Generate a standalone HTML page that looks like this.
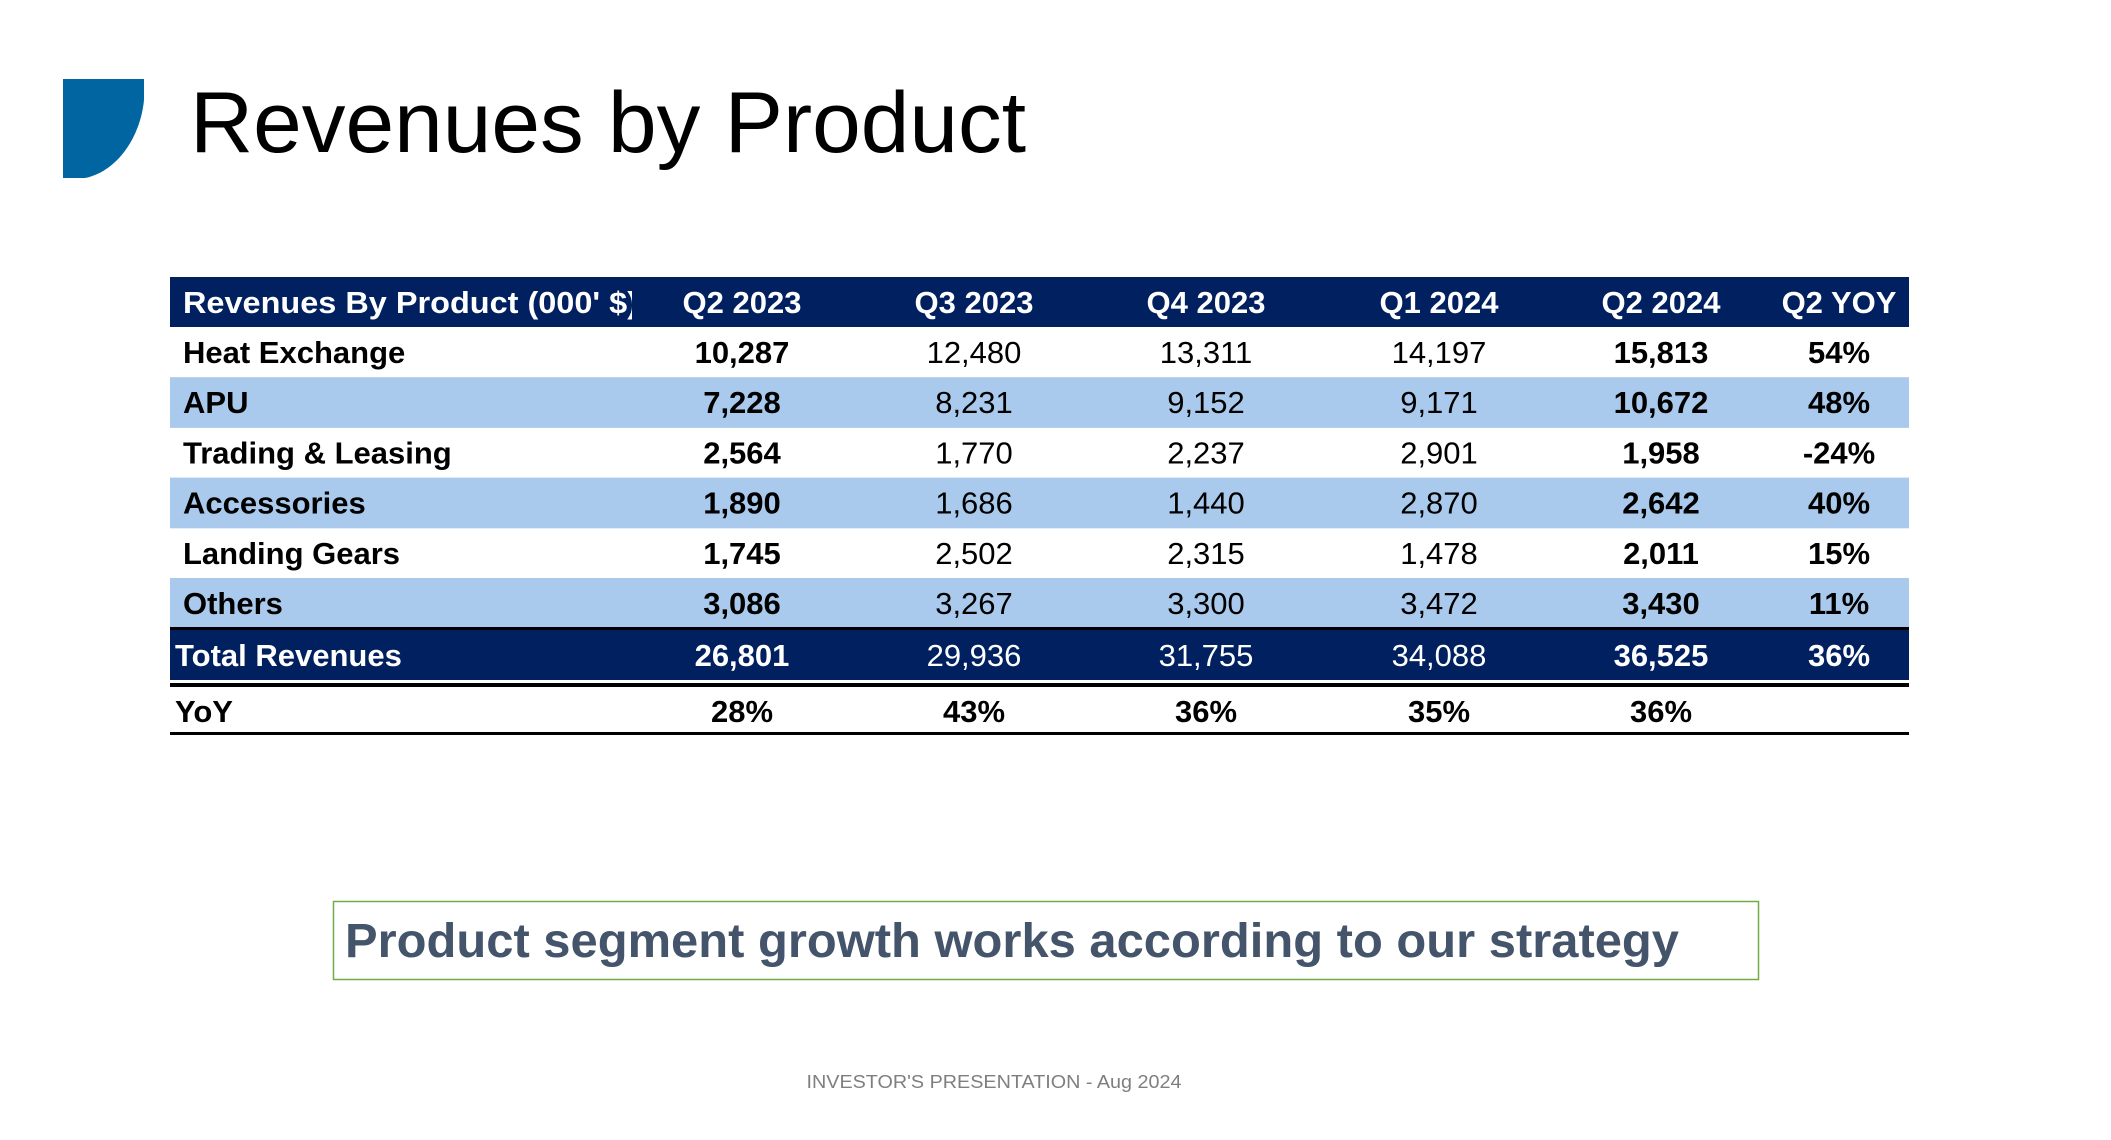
<!DOCTYPE html>
<html><head><meta charset="utf-8">
<style>
html,body{margin:0;padding:0;background:#fff;}
svg{display:block;font-family:"Liberation Sans",sans-serif;}
</style></head>
<body>
<svg id="slide" width="2111" height="1140" viewBox="0 0 2111 1140" xmlns="http://www.w3.org/2000/svg">
  <defs><clipPath id="hdrclip"><rect x="170" y="277" width="462" height="50"/></clipPath></defs>
  <path d="M63,79 L144,79 L144,100 C140,140 115,172 85,178 L63,178 Z" fill="#0065A1"/>
  <text x="190" y="152" font-size="86" fill="#000" textLength="836" lengthAdjust="spacingAndGlyphs">Revenues by Product</text>
  <g id="table"></g>
  <rect x="333.5" y="901.5" width="1425" height="78" fill="#fff" stroke="#70AD47" stroke-width="1.5"/>
  <text x="345" y="957" font-size="48" font-weight="bold" fill="#44546A" textLength="1334" lengthAdjust="spacingAndGlyphs">Product segment growth works according to our strategy</text>
  <text x="994" y="1088" font-size="18" fill="#7F7F7F" text-anchor="middle" textLength="375" lengthAdjust="spacingAndGlyphs">INVESTOR'S PRESENTATION - Aug 2024</text>
</svg>
<script>
const headers = ["Q2 2023","Q3 2023","Q4 2023","Q1 2024","Q2 2024","Q2 YOY"];
const products = ["Heat Exchange","APU","Trading & Leasing","Accessories","Landing Gears","Others"];
const q2_2023 = [10287,7228,2564,1890,1745,3086];
const q3_2023 = [12480,8231,1770,1686,2502,3267];
const q4_2023 = [13311,9152,2237,1440,2315,3300];
const q1_2024 = [14197,9171,2901,2870,1478,3472];
const q2_2024 = [15813,10672,1958,2642,2011,3430];
const q2Yoy = [54,48,-24,40,15,11];
const totals = [26801,29936,31755,34088,36525];
const totalYoy = 36;
const yoyRow = [28,43,36,35,36];

const NS="http://www.w3.org/2000/svg";
const g=document.getElementById('table');
const colX=[742,974,1206,1439,1661,1839];
const boldCols=[true,false,false,false,true,true];
const fmt=n=>n.toLocaleString('en-US');
function mk(tag,attrs,parent){const e=document.createElementNS(NS,tag);for(const k in attrs)e.setAttribute(k,attrs[k]);(parent||g).appendChild(e);return e;}
function txt(x,y,s,opts){const t=mk('text',Object.assign({x:x,y:y,'font-size':31},opts||{}));t.textContent=s;return t;}

let r=mk('rect',{x:170,y:277,width:1739,height:50,fill:'#002060'});


let t=txt(183,313,"Revenues By Product (000' $)",{fill:'#fff','font-weight':'bold',textLength:455,lengthAdjust:'spacingAndGlyphs','clip-path':'url(#hdrclip)'});


headers.forEach((h,i)=>{
  const e=txt(colX[i],313,h,{fill:'#fff','font-weight':'bold','text-anchor':'middle'});
  
  
});
const rowH=50.2;
products.forEach((p,i)=>{
  const y0=327+i*rowH;
  if(i%2===1){
    const b=mk('rect',{x:170,y:y0,width:1739,height:rowH+0.5,fill:'#A9CAEC'});
    
    
  }
  const by=y0+36;
  const l=txt(183,by,p,{fill:'#000','font-weight':'bold'});
  
  
  const vals=[q2_2023[i],q3_2023[i],q4_2023[i],q1_2024[i],q2_2024[i]];
  vals.forEach((v,j)=>{
    const e=txt(colX[j],by,fmt(v),{fill:'#000','text-anchor':'middle','font-weight':boldCols[j]?'bold':'normal'});
    
    
  });
  const e=txt(colX[5],by,q2Yoy[i]+'%',{fill:'#000','text-anchor':'middle','font-weight':'bold'});
  
  
});
let tb=mk('rect',{x:170,y:628,width:1739,height:52,fill:'#002060'});


let ln=mk('rect',{x:170,y:627,width:1739,height:3,fill:'#000'});


t=txt(175,666,'Total Revenues',{fill:'#fff','font-weight':'bold'});


totals.forEach((v,j)=>{
  const e=txt(colX[j],666,fmt(v),{fill:'#fff','text-anchor':'middle','font-weight':boldCols[j]?'bold':'normal'});
  
  
});
t=txt(colX[5],666,totalYoy+'%',{fill:'#fff','text-anchor':'middle','font-weight':'bold'});


ln=mk('rect',{x:170,y:683,width:1739,height:4,fill:'#000'});


t=txt(175,722,'YoY',{fill:'#000','font-weight':'bold'});


yoyRow.forEach((v,j)=>{
  const e=txt(colX[j],722,v+'%',{fill:'#000','text-anchor':'middle','font-weight':'bold'});
  
  
});
ln=mk('rect',{x:170,y:732,width:1739,height:3,fill:'#000'});


</script>
</body></html>
